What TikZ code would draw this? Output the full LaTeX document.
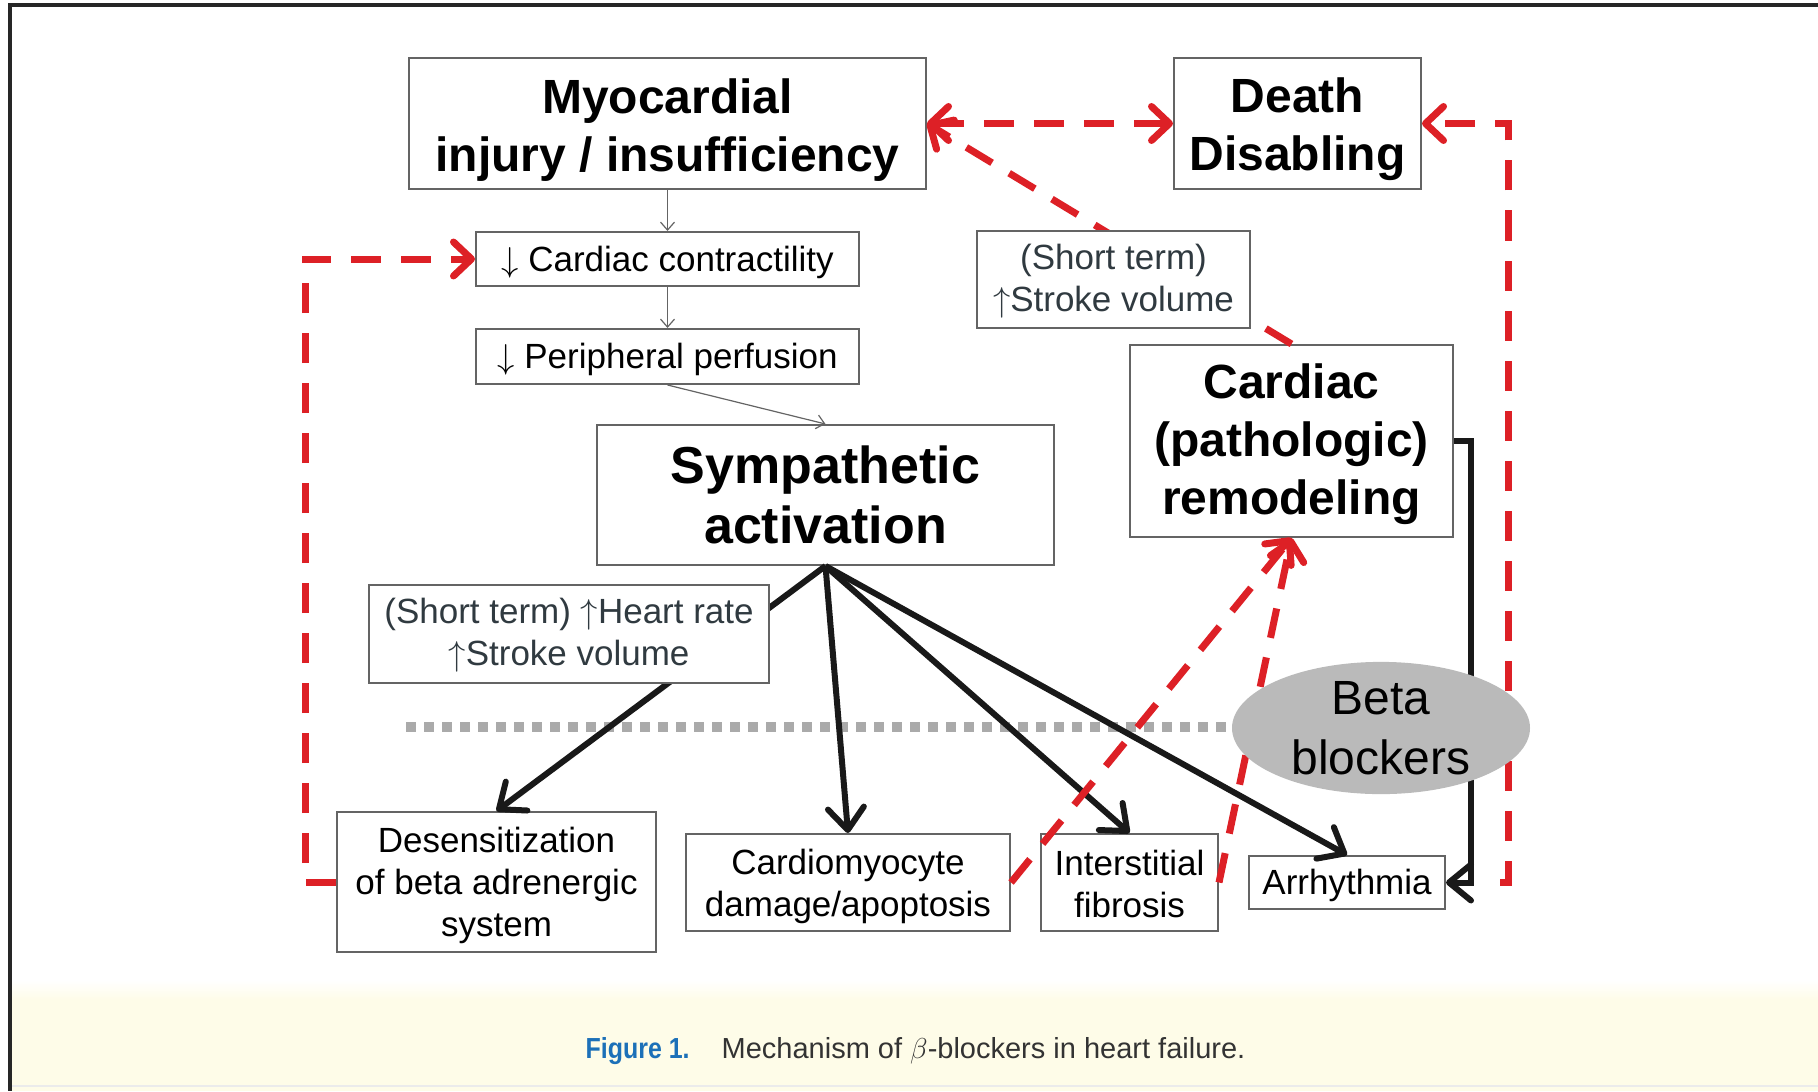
\documentclass[tikz,border=0pt]{standalone}
\usepackage{fontspec}
\setmainfont{Liberation Sans}
\newfontfamily\capfont[FakeStretch=0.86]{Liberation Sans}
\usetikzlibrary{arrows.meta,shapes.geometric}
\definecolor{dashred}{RGB}{221,32,38}
\definecolor{boxgray}{RGB}{100,100,100}
\definecolor{notegray}{RGB}{48,58,64}
\definecolor{dotgray}{RGB}{170,170,170}
\definecolor{ellgray}{RGB}{186,186,186}
\definecolor{capblue}{RGB}{28,112,184}
\definecolor{capband}{RGB}{254,252,232}

\begin{document}
\begin{tikzpicture}[x=0.5pt,y=-0.5pt]
\tikzstyle{every node}+=[inner sep=0pt]
\tikzstyle{box}=[draw=boxgray,line width=1pt,fill=white,align=center]
\tikzstyle{bigbox}=[box,font=\bfseries\fontsize{24}{29}\selectfont,text height=52.5pt]
\tikzstyle{smallbox}=[box,font=\fontsize{17.5}{21}\selectfont]
\tikzstyle{onebox}=[smallbox,text height=16pt]
\tikzstyle{notebox}=[smallbox,text=notegray,text height=35pt]
\tikzstyle{thinarrow}=[draw=boxgray,line width=0.6pt,-{Straight Barb[length=4pt,width=7pt]}]
\tikzstyle{fatarrow}=[black!90,line width=3pt,-{Straight Barb[length=11pt,width=18pt,round]}]
\tikzstyle{reddash}=[dashred,line width=3.5pt,dash pattern=on 15pt off 10pt,>={Straight Barb[length=9pt,width=17pt,round]}]
\useasboundingbox (0,0) rectangle (1818,1091);
\shade[top color=white,bottom color=capband] (10,980) rectangle (1818,1000);
\fill[capband] (10,1000) rectangle (1818,1091);
\draw[black!8,line width=1pt] (12,1086) -- (1818,1086);
\draw[black!85,line width=2pt] (1818,5) -- (10,5) -- (10,1091);
\node[font=\fontsize{14.5}{17}\selectfont,text=black!80,anchor=base] (cap) at (915.5,1058) {{\capfont\bfseries\color{capblue}Figure 1.}\hspace{16pt}Mechanism of $\beta$-blockers in heart failure.};
\node[bigbox,minimum width=258.5pt,minimum height=65.5pt] (myo) at (667.5,123.5) {Myocardial\\injury / insufficiency};
\node[bigbox,minimum width=123.5pt,minimum height=65.5pt] (death) at (1297.5,123.5) {Death\\Disabling};
\node[onebox,minimum width=191.5pt,minimum height=27pt] (contr) at (667.5,259) {$\downarrow$ Cardiac contractility};
\node[onebox,minimum width=191.5pt,minimum height=27.5pt] (perf) at (667.5,356.5) {$\downarrow$ Peripheral perfusion};
\node[box,font=\bfseries\fontsize{26}{30}\selectfont,minimum width=228.5pt,minimum height=70pt] (symp) at (825.5,495) {Sympathetic\\activation};
\node[bigbox,text height=79pt,minimum width=161.5pt,minimum height=96pt] (remod) at (1291.5,441) {Cardiac\\(pathologic)\\remodeling};
\node[smallbox,text height=58pt,minimum width=159.5pt,minimum height=70pt] (desens) at (496.5,882) {Desensitization\\of beta adrenergic\\system};
\node[smallbox,text height=38pt,minimum width=162pt,minimum height=48.5pt] (cmyo) at (848,882.5) {Cardiomyocyte\\damage/apoptosis};
\node[smallbox,text height=35.5pt,minimum width=88.5pt,minimum height=48.5pt] (fib) at (1129.5,882.5) {Interstitial\\fibrosis};
\node[onebox,minimum width=98pt,minimum height=26.5pt] (arr) at (1347,882.5) {Arrhythmia};
\coordinate (dotL) at (406,727);
\coordinate (dotR) at (1240,727);
\coordinate (arrout) at (1500,882.5);
\draw[thinarrow] (myo) -- (contr);
\draw[thinarrow] (contr) -- (perf);
\draw[thinarrow] (perf.south) -- (symp.north);
\draw[dotgray,line width=5pt,dash pattern=on 5pt off 4pt] (dotL) -- (dotR);
\draw[fatarrow] (symp.south) -- (desens.north);
\draw[fatarrow] (symp.south) -- (cmyo.north);
\draw[fatarrow] (symp.south) -- (fib.north);
\draw[fatarrow] (symp.south) -- (arr.north);
\draw[fatarrow] (remod.east) -- ++(17,0) |- (arr.east);
\draw[reddash,<->] (myo.east) -- (death.west);
\draw[reddash,->] (remod.north) -- (myo.east);
\draw[reddash,->] (desens.west) -- ++(-31,0) |- (contr.west);
\draw[reddash,->] (cmyo.east) -- (remod.south);
\draw[reddash,->] (fib.east) -- (remod.south);
\draw[reddash,->] (arrout) -- ++(8,0) |- (death.east);
\node[notebox,minimum width=136.5pt,minimum height=48.5pt] (stv) at (1113.5,279.5) {(Short term)\\$\uparrow$Stroke volume};
\node[notebox,minimum width=200pt,minimum height=49pt] (hr) at (569,634) {(Short term) $\uparrow$Heart rate\\$\uparrow$Stroke volume};
\node[ellipse,fill=ellgray,minimum width=149pt,minimum height=65pt,font=\fontsize{24}{30}\selectfont,align=center] (beta) at (1381,728) {Beta\\blockers};
\end{tikzpicture}
\end{document}
